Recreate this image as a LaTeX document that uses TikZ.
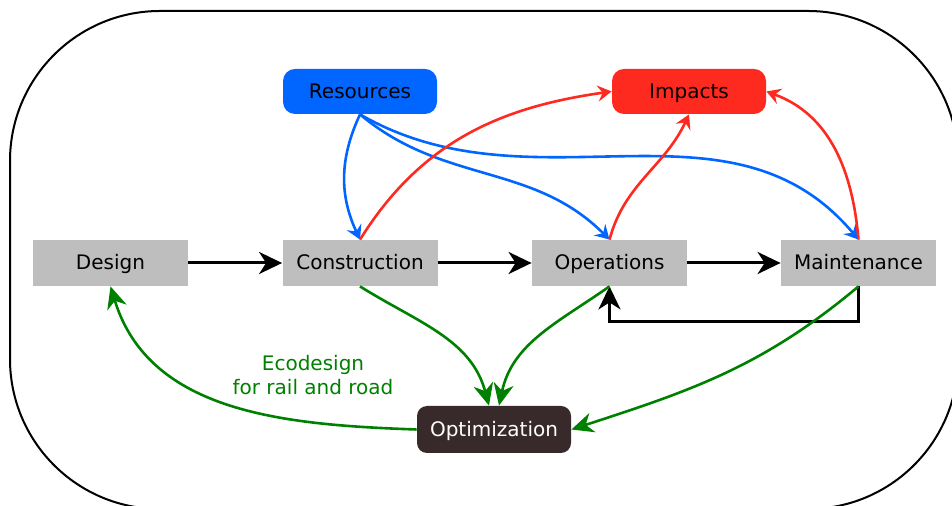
\documentclass[tikz,border=0pt]{standalone}
\usepackage{fontspec}
\setmainfont{DejaVu Sans}
\usetikzlibrary{arrows.meta}

\definecolor{resblue}{HTML}{0066FF}
\definecolor{impred}{HTML}{FF2A1F}
\definecolor{ecogreen}{HTML}{008000}
\definecolor{stagegray}{HTML}{BEBEBE}
\definecolor{optbrown}{HTML}{382A2A}

\tikzset{
  stage/.style={fill=stagegray, minimum width=77.5pt, minimum height=23pt, inner sep=0pt, text height=7.5pt, text depth=0.5pt},
  pool/.style={rounded corners=6pt, minimum width=77pt, minimum height=22.5pt, inner sep=0pt, text height=7.5pt, text depth=0.5pt},
  chain/.style={line width=1.5pt, -{Stealth[length=11.5pt,width=11pt,inset=3.5pt]}},
  useflow/.style={resblue, line width=1.3pt, -{Stealth[length=7pt,width=8pt,inset=2.5pt]}},
  impflow/.style={impred, line width=1.3pt, -{Stealth[length=7pt,width=8pt,inset=2.5pt]}},
  optflow/.style={ecogreen, line width=1.3pt, -{Stealth[length=11pt,width=10pt,inset=3.5pt]}}
}

\begin{document}
\begin{tikzpicture}[x=0.5pt,y=0.5pt]
       \useasboundingbox (0,0) rectangle (952,-506);
       \draw[line width=1pt, rounded corners=75pt] (10,-11) rectangle (958,-509);
       % life cycle stages
       \node[stage] (design) at (110.5,-263) {Design};
       \node[stage] (constr) at (360,-263) {Construction};
       \node[stage] (oper)   at (609.5,-263) {Operations};
       \node[stage] (maint)  at (858.5,-263) {Maintenance};
       \node[pool, fill=resblue] (res) at (360,-91.5) {Resources};
       \node[pool, fill=impred]  (imp) at (689,-91.5) {Impacts};
       \node[pool, fill=optbrown, text=white, rounded corners=5pt, minimum height=23.5pt] (opt) at (494,-429.5) {Optimization};
       \node[ecogreen, align=center] (eco) at (313,-375) {Ecodesign\\for rail and road};
       % main chain
       \draw[chain] (design) -- (constr);
       \draw[chain] (constr) -- (oper);
       \draw[chain] (oper) -- (maint);
       \draw[chain] (maint.south) -- ++(0,-35) -| (oper.south);
       % resources
       \draw[useflow] (res.south) to[out=-115, in=115] (constr.north);
       \draw[useflow] (res.south) to[out=-40, in=135] (oper.north);
       \draw[useflow] (res.south) to[out=-30, in=130] (maint.north);
       % impacts
       \draw[impflow] (constr.north) to[out=58, in=188] (imp.west);
       \draw[impflow] (oper.north) to[out=75, in=-115] (imp.south);
       \draw[impflow] (maint.north) to[out=95, in=-20] (imp.east);
       % optimization
       \draw[optflow] (constr.south) to[out=-32, in=105] ([xshift=-2.5pt]opt.north);
       \draw[optflow] (oper.south) to[out=-145, in=78] ([xshift=2.5pt]opt.north);
       \draw[optflow] (maint.south) to[out=-140, in=18] (opt.east);
       \draw[optflow] (opt.west) to[out=178, in=-73] (design.south);
      \end{tikzpicture}
\end{document}
